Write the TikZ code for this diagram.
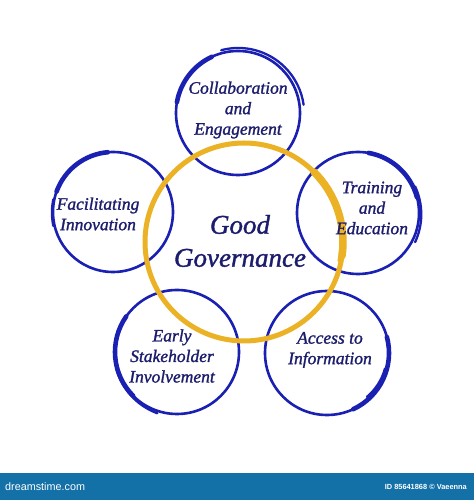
\documentclass[tikz,border=0pt]{standalone}
\usepackage{fontspec}
\setmainfont{Liberation Serif}
\setsansfont{Liberation Sans}
\newfontfamily\lblfont[FakeBold=1.3]{Liberation Serif}
\definecolor{ringblue}{RGB}{26,32,178}
\definecolor{textnavy}{RGB}{28,28,108}
\definecolor{ringgold}{RGB}{236,178,38}
\definecolor{barblue}{RGB}{19,113,168}
\begin{document}
\begin{tikzpicture}[x=1pt,y=1pt,
  lbl/.style={font=\lblfont\itshape\fontsize{17.5}{20.5}\selectfont, text=textnavy, align=center, inner sep=0pt},
  mainlbl/.style={font=\lblfont\itshape\fontsize{27}{33}\selectfont, text=textnavy, align=center, inner sep=0pt},
  ringthin/.style={draw=ringblue, line width=2.6pt},
  ringthick/.style={draw=ringblue, line width=4.6pt, line cap=round},
  ringtail/.style={draw=ringblue, line width=2.3pt, line cap=round},
  goldmain/.style={draw=ringgold, line width=5pt},
  goldthick/.style={draw=ringgold, line width=7.5pt, line cap=round},
  goldtail/.style={draw=ringgold, line width=3pt, line cap=round}]
\useasboundingbox (0,0) rectangle (474,500);
\fill[white] (0,0) rectangle (474,500);

% centres
\coordinate (cT) at (238,387);
\coordinate (cL) at (113,288);
\coordinate (cR) at (358,287);
\coordinate (cBL) at (177,148);
\coordinate (cBR) at (327,147);
\coordinate (cY) at (244,258);

% top ring
\draw[ringthin] (cT) circle[radius=62pt];
\draw[ringthick] (cT) ++(115:62pt) arc[start angle=115,end angle=170,radius=62pt];
\draw[ringtail] (cT) ++(105:65pt) arc[start angle=105,end angle=8,radius=66pt];
% left ring
\draw[ringthin] (cL) circle[radius=60pt];
\draw[ringthick] (cL) ++(95:60pt) arc[start angle=95,end angle=160,radius=60pt];
\draw[ringtail] (cL) ++(168:61pt) arc[start angle=168,end angle=192,radius=64pt];
% right ring
\draw[ringthin] (cR) circle[radius=61pt];
\draw[ringthick] (cR) ++(80:61pt) arc[start angle=80,end angle=15,radius=61pt];
\draw[ringtail] (cR) ++(25:63pt) arc[start angle=25,end angle=-25,radius=66pt];
% bottom-left ring
\draw[ringthin] (cBL) circle[radius=62pt];
\draw[ringthick] (cBL) ++(145:62pt) arc[start angle=145,end angle=225,radius=62pt];
\draw[ringtail] (cBL) ++(195:63pt) arc[start angle=195,end angle=250,radius=66pt];
% bottom-right ring
\draw[ringthin] (cBR) circle[radius=62pt];
\draw[ringthick] (cBR) ++(-65:62pt) arc[start angle=-65,end angle=15,radius=62pt];
\draw[ringtail] (cBR) ++(-15:60pt) arc[start angle=-15,end angle=-50,radius=56pt];

% gold ring
\draw[goldmain] (cY) circle[radius=99pt];
\draw[goldthick] (cY) ++(45:99pt) arc[start angle=45,end angle=-8,radius=99pt];
\draw[goldtail] (cY) ++(8:97pt) arc[start angle=8,end angle=-12,radius=93pt];

% labels
\node[mainlbl] (good) at (240,259) {Good\\Governance};
\node[lbl] (collab) at (238,390) {Collaboration\\and\\Engagement};
\node[lbl] (facil) at (98,286) {Facilitating\\Innovation};
\node[lbl] (train) at (372,292) {Training\\and\\Education};
\node[lbl] (early) at (172,144) {Early\\Stakeholder\\Involvement};
\node[lbl] (access) at (330,150) {Access to\\Information};

% bottom bar
\fill[barblue] (0,0) rectangle (474,27);
\node[anchor=west, text=white, font=\sffamily\fontsize{10.8}{12}\selectfont, inner sep=0pt] (brand) at (5,13) {dreamstime.com};
\node[anchor=east, text=white, font=\sffamily\bfseries\fontsize{7.4}{8}\selectfont, inner sep=0pt] (credit) at (467,13) {ID 85641868 © Vaeenna};
\end{tikzpicture}
\end{document}
